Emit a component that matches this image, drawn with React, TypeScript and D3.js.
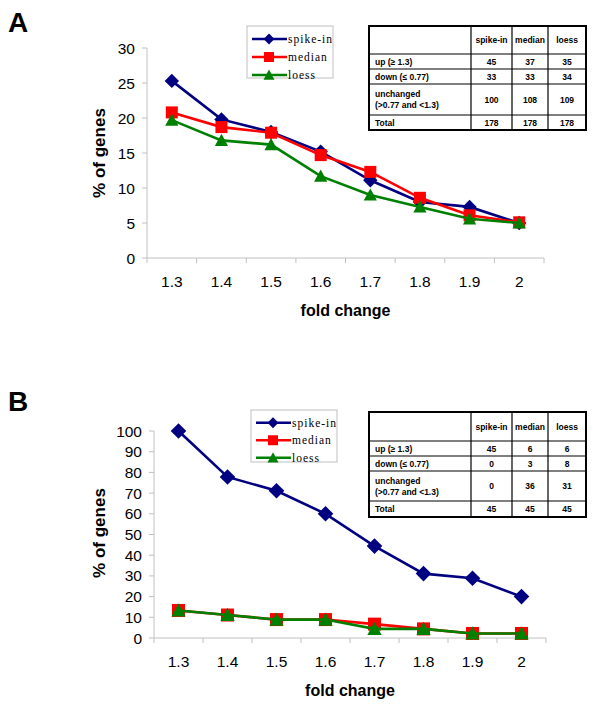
import React from "react";
import * as d3 from "d3";

const categories = ["1.3", "1.4", "1.5", "1.6", "1.7", "1.8", "1.9", "2"];
const seriesNames = ["spike-in", "median", "loess"];

const spikeA = [25.3, 19.8, 18.0, 15.2, 11.1, 8.0, 7.3, 5.0];
const medianA = [20.8, 18.7, 17.9, 14.7, 12.3, 8.6, 6.1, 5.1];
const loessA = [19.7, 16.8, 16.2, 11.7, 9.0, 7.3, 5.6, 5.0];

const spikeB = [100, 77.8, 71.1, 60.0, 44.4, 31.1, 28.9, 20.0];
const medianB = [13.3, 11.1, 8.9, 8.9, 6.7, 4.4, 2.2, 2.2];
const loessB = [13.3, 11.1, 8.9, 8.9, 4.4, 4.4, 2.2, 2.2];

const tableHeaders = ["spike-in", "median", "loess"];
const tableRowLabels = [["up (\u2265 1.3)"], ["down (\u2264 0.77)"], ["unchanged", "(>0.77 and <1.3)"], ["Total"]];
const tableA = [
  [45, 37, 35],
  [33, 33, 34],
  [100, 108, 109],
  [178, 178, 178],
];
const tableB = [
  [45, 6, 6],
  [0, 3, 8],
  [0, 36, 31],
  [45, 45, 45],
];

const colors = ["#000080", "#ff0000", "#008000"];
const sans = "Arial, 'Liberation Sans', sans-serif";
const serif = "'Liberation Serif', 'Times New Roman', serif";

function Marker({ kind, x, y, s }: { kind: number; x: number; y: number; s: number }) {
  if (kind === 0) {
    const r = s * 0.6;
    return <path d={`M${x},${y - r}L${x + r},${y}L${x},${y + r}L${x - r},${y}Z`} fill={colors[0]} />;
  }
  if (kind === 1) {
    const h = s * 0.5;
    return <rect x={x - h} y={y - h} width={2 * h} height={2 * h} fill={colors[1]} />;
  }
  const h = s * 0.55;
  return <path d={`M${x},${y - h}L${x + h},${y + h * 0.85}L${x - h},${y + h * 0.85}Z`} fill={colors[2]} />;
}

type PanelProps = {
  label: string;
  labelY: number;
  x0: number;
  x1: number;
  yTop: number;
  yBot: number;
  maxV: number;
  step: number;
  series: number[][];
  legend: { x: number; y: number; w: number; h: number; rowH: number };
  table: { y: number; rows: number[]; data: number[][] };
  yTitleY: number;
  markerSize: number;
};

function Panel(p: PanelProps) {
  const x = d3.scaleBand<string>().domain(categories).range([p.x0, p.x1]).padding(0);
  const y = d3.scaleLinear().domain([0, p.maxV]).range([p.yBot, p.yTop]);
  const ticks = d3.range(0, p.maxV + 0.001, p.step);
  const line = d3
    .line<number>()
    .x((_, i) => (x(categories[i]) as number) + x.bandwidth() / 2)
    .y((v) => y(v));
  const boundaries = categories.map((c) => x(c) as number).concat([p.x1]);

  // table geometry
  const tx = [369, 471, 512, 548, 586];
  const ty = [p.table.y];
  p.table.rows.forEach((h) => ty.push(ty[ty.length - 1] + h));

  return (
    <g>
      <text x={8} y={p.labelY} fontFamily={sans} fontWeight="bold" fontSize={28}>
        {p.label}
      </text>
      {/* axes */}
      <line x1={p.x0} x2={p.x0} y1={p.yTop} y2={p.yBot} stroke="#c0c0c0" strokeWidth={1} />
      <line x1={p.x0} x2={p.x1} y1={p.yBot} y2={p.yBot} stroke="#c0c0c0" strokeWidth={1} />
      {ticks.map((t) => (
        <g key={"yt" + t}>
          <line x1={p.x0 - 5} x2={p.x0} y1={y(t)} y2={y(t)} stroke="#c0c0c0" />
          <text x={p.x0 - 12} y={y(t) + 5.5} textAnchor="end" fontFamily={sans} fontSize={15.5} fill="#000">
            {t}
          </text>
        </g>
      ))}
      {boundaries.map((b, i) => (
        <line key={"xt" + i} x1={b} x2={b} y1={p.yBot} y2={p.yBot + 5} stroke="#c0c0c0" />
      ))}
      {categories.map((c) => (
        <text
          key={"xl" + c}
          x={(x(c) as number) + x.bandwidth() / 2}
          y={p.yBot + 29}
          textAnchor="middle"
          fontFamily={sans}
          fontSize={15.5}
        >
          {c}
        </text>
      ))}
      <text
        transform={`translate(105,${p.yTitleY}) rotate(-90)`}
        textAnchor="middle"
        fontFamily={sans}
        fontWeight="bold"
        fontSize={17}
      >
        % of genes
      </text>
      <text x={(p.x0 + p.x1) / 2} y={p.yBot + 58} textAnchor="middle" fontFamily={sans} fontWeight="bold" fontSize={16}>
        fold change
      </text>
      {/* series */}
      {p.series.map((s, k) => (
        <g key={"s" + k}>
          <path d={line(s) as string} fill="none" stroke={colors[k]} strokeWidth={2.6} />
          {s.map((v, i) => (
            <Marker
              key={i}
              kind={k}
              x={(x(categories[i]) as number) + x.bandwidth() / 2}
              y={y(v)}
              s={p.markerSize}
            />
          ))}
        </g>
      ))}
      {/* legend */}
      <rect x={p.legend.x} y={p.legend.y} width={p.legend.w} height={p.legend.h} fill="#fff" stroke="#c0c0c0" />
      {seriesNames.map((n, k) => {
        const cy = p.legend.y + 8 + p.legend.rowH * k + p.legend.rowH / 2 - 4;
        return (
          <g key={"lg" + n}>
            <line x1={p.legend.x + 5} x2={p.legend.x + 40} y1={cy} y2={cy} stroke={colors[k]} strokeWidth={2.6} />
            <Marker kind={k} x={p.legend.x + 22} y={cy} s={k === 0 ? 9 : 10} />
            <text x={p.legend.x + 41} y={cy + 4} fontFamily={serif} fontSize={11.5} letterSpacing={1}>
              {n}
            </text>
          </g>
        );
      })}
      {/* table */}
      <rect x={tx[0]} y={ty[0]} width={tx[4] - tx[0]} height={ty[5] - ty[0]} fill="#fff" stroke="none" />
      {ty.slice(1, 5).map((yy, i) => (
        <line key={"th" + i} x1={tx[0]} x2={tx[4]} y1={yy} y2={yy} stroke="#000" strokeWidth={1.2} />
      ))}
      {tx.slice(1, 4).map((xx, i) => (
        <line key={"tv" + i} x1={xx} x2={xx} y1={ty[0]} y2={ty[5]} stroke="#000" strokeWidth={1.2} />
      ))}
      <rect x={tx[0]} y={ty[0]} width={tx[4] - tx[0]} height={ty[5] - ty[0]} fill="none" stroke="#000" strokeWidth={2} />
      {tableHeaders.map((h, j) => (
        <text
          key={"hd" + h}
          x={(tx[j + 1] + tx[j + 2]) / 2}
          y={(ty[0] + ty[1]) / 2 + 3}
          textAnchor="middle"
          fontFamily={sans}
          fontWeight="bold"
          fontSize={8.5}
        >
          {h}
        </text>
      ))}
      {tableRowLabels.map((lab, r) => {
        const cy = (ty[r + 1] + ty[r + 2]) / 2;
        return (
          <g key={"tr" + r}>
            {lab.map((t, li) => (
              <text
                key={li}
                x={tx[0] + 6}
                y={cy + 3 + (li - (lab.length - 1) / 2) * 11}
                fontFamily={sans}
                fontWeight="bold"
                fontSize={8.5}
              >
                {t}
              </text>
            ))}
            {p.table.data[r].map((v, j) => (
              <text
                key={"v" + j}
                x={(tx[j + 1] + tx[j + 2]) / 2}
                y={cy + 3}
                textAnchor="middle"
                fontFamily={sans}
                fontWeight="bold"
                fontSize={8.5}
              >
                {v}
              </text>
            ))}
          </g>
        );
      })}
    </g>
  );
}

export default function App() {
  return (
    <svg
      width={600}
      height={716}
      style={{ position: "absolute", left: 0, top: 0, background: "#fff" }}
      xmlns="http://www.w3.org/2000/svg"
    >
      <rect width={600} height={716} fill="#fff" />
      <Panel
        label="A"
        labelY={32}
        x0={147}
        x1={544}
        yTop={48}
        yBot={258}
        maxV={30}
        step={5}
        series={[spikeA, medianA, loessA]}
        legend={{ x: 247, y: 26, w: 86, h: 52, rowH: 18 }}
        table={{ y: 26, rows: [28, 15, 15, 31, 15], data: tableA }}
        yTitleY={153}
        markerSize={12}
      />
      <Panel
        label="B"
        labelY={411}
        x0={154}
        x1={546}
        yTop={431}
        yBot={638}
        maxV={100}
        step={10}
        series={[spikeB, medianB, loessB]}
        legend={{ x: 251, y: 410, w: 86, h: 52, rowH: 17.5 }}
        table={{ y: 412, rows: [29, 15, 15, 30, 16], data: tableB }}
        yTitleY={533}
        markerSize={13}
      />
    </svg>
  );
}
